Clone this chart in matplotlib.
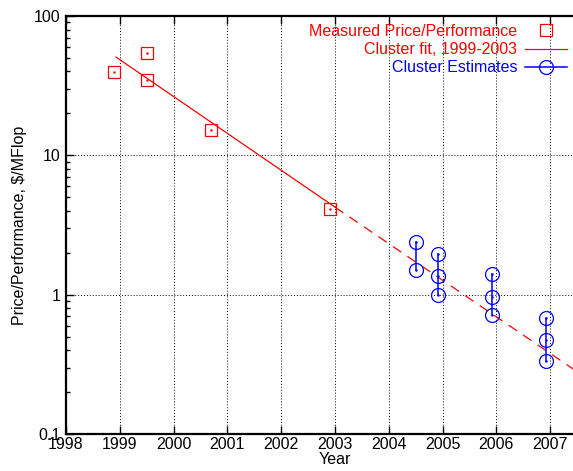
import numpy as np
import matplotlib
matplotlib.use('Agg')
from matplotlib import pyplot as plt
from matplotlib.ticker import FixedLocator, FixedFormatter, LogLocator, NullFormatter

plt.rcParams['font.family'] = ['Liberation Sans', 'DejaVu Sans']

# measured price/performance points
meas_year = [1998.9, 1999.5, 1999.5, 2000.7, 2002.9]
meas_val = [39.5, 54.0, 35.0, 15.1, 4.1]

# cluster fit (solid over 1999-2003, dashed extrapolation)
fit_year = [1998.93, 2003.0]
fit_val = [50.7, 4.25]
ext_year = [2003.0, 2007.5]
ext_val = [4.25, 0.28]

# cluster estimates, one list per year group
est_year = [2004.5, 2004.92, 2005.92, 2006.92]
est_vals = [[2.38, 1.51],
            [1.97, 1.37, 1.0],
            [1.41, 0.96, 0.71],
            [0.684, 0.472, 0.333]]

year_ticks = list(range(1998, 2008))
y_ticks = [0.1, 1, 10, 100]
y_labels = ['0.1', '1', '10', '100']

fig = plt.figure(figsize=(5.73, 4.71), dpi=100)
ax = fig.add_axes([66/573, 37/471, 538/573, 418/471])
ax.set_yscale('log')
ax.set_xlim(1998, 2008)
ax.set_ylim(0.1, 100)

ax.grid(True, which='major', linestyle=(0, (1, 2)), color='k', linewidth=0.7)

# fit line
ax.plot(fit_year, fit_val, color='red', linewidth=0.9, label='Cluster fit, 1999-2003')
ax.plot(ext_year, ext_val, color='red', linewidth=0.9, linestyle=(0, (8, 6)))

# measured
ax.plot(meas_year, meas_val, linestyle='none', color='red', marker='s', markersize=9,
        markerfacecolor='none', markeredgecolor='red', markeredgewidth=0.9,
        label='Measured Price/Performance')
ax.plot(meas_year, meas_val, linestyle='none', marker='.', markersize=1.5, color='red')

# estimates
for i, (yr, vals) in enumerate(zip(est_year, est_vals)):
    ax.plot([yr] * len(vals), vals, color='blue', linewidth=1.1, marker='o',
            markersize=10, markerfacecolor='none', markeredgewidth=0.9,
            label='Cluster Estimates' if i == 0 else None)
    ax.plot([yr] * len(vals), vals, linestyle='none', marker='.', markersize=1.5, color='blue')

ax.xaxis.set_major_locator(FixedLocator(year_ticks))
ax.yaxis.set_major_locator(FixedLocator(y_ticks))
ax.yaxis.set_major_formatter(FixedFormatter(y_labels))
ax.yaxis.set_minor_locator(LogLocator(base=10, subs=np.arange(2, 10)))
ax.yaxis.set_minor_formatter(NullFormatter())
ax.tick_params(which='both', direction='in', top=True, right=True, labelsize=11.5)
ax.tick_params(which='major', length=6, width=1)
ax.tick_params(which='minor', length=3, width=1)
ax.tick_params(axis='x', pad=2)
ax.tick_params(axis='y', pad=4)
for s in ax.spines.values():
    s.set_linewidth(1.6)

ax.set_xlabel('Year', fontsize=11.5, labelpad=0)
ax.set_ylabel('Price/Performance, \\$/MFlop', fontsize=11.5, labelpad=5)

handles, labels = ax.get_legend_handles_labels()
order = [labels.index('Measured Price/Performance'), labels.index('Cluster fit, 1999-2003'),
         labels.index('Cluster Estimates')]
leg = ax.legend([handles[k] for k in order], [labels[k] for k in order],
                loc='upper right', bbox_to_anchor=(567/573, 1 - 24/471),
                bbox_transform=fig.transFigure, frameon=False, markerfirst=False,
                fontsize=11.5, labelcolor='linecolor', handlelength=2.6,
                handletextpad=0.5, labelspacing=0.2, borderpad=0, borderaxespad=0)

fig.savefig('out.png', dpi=100)
